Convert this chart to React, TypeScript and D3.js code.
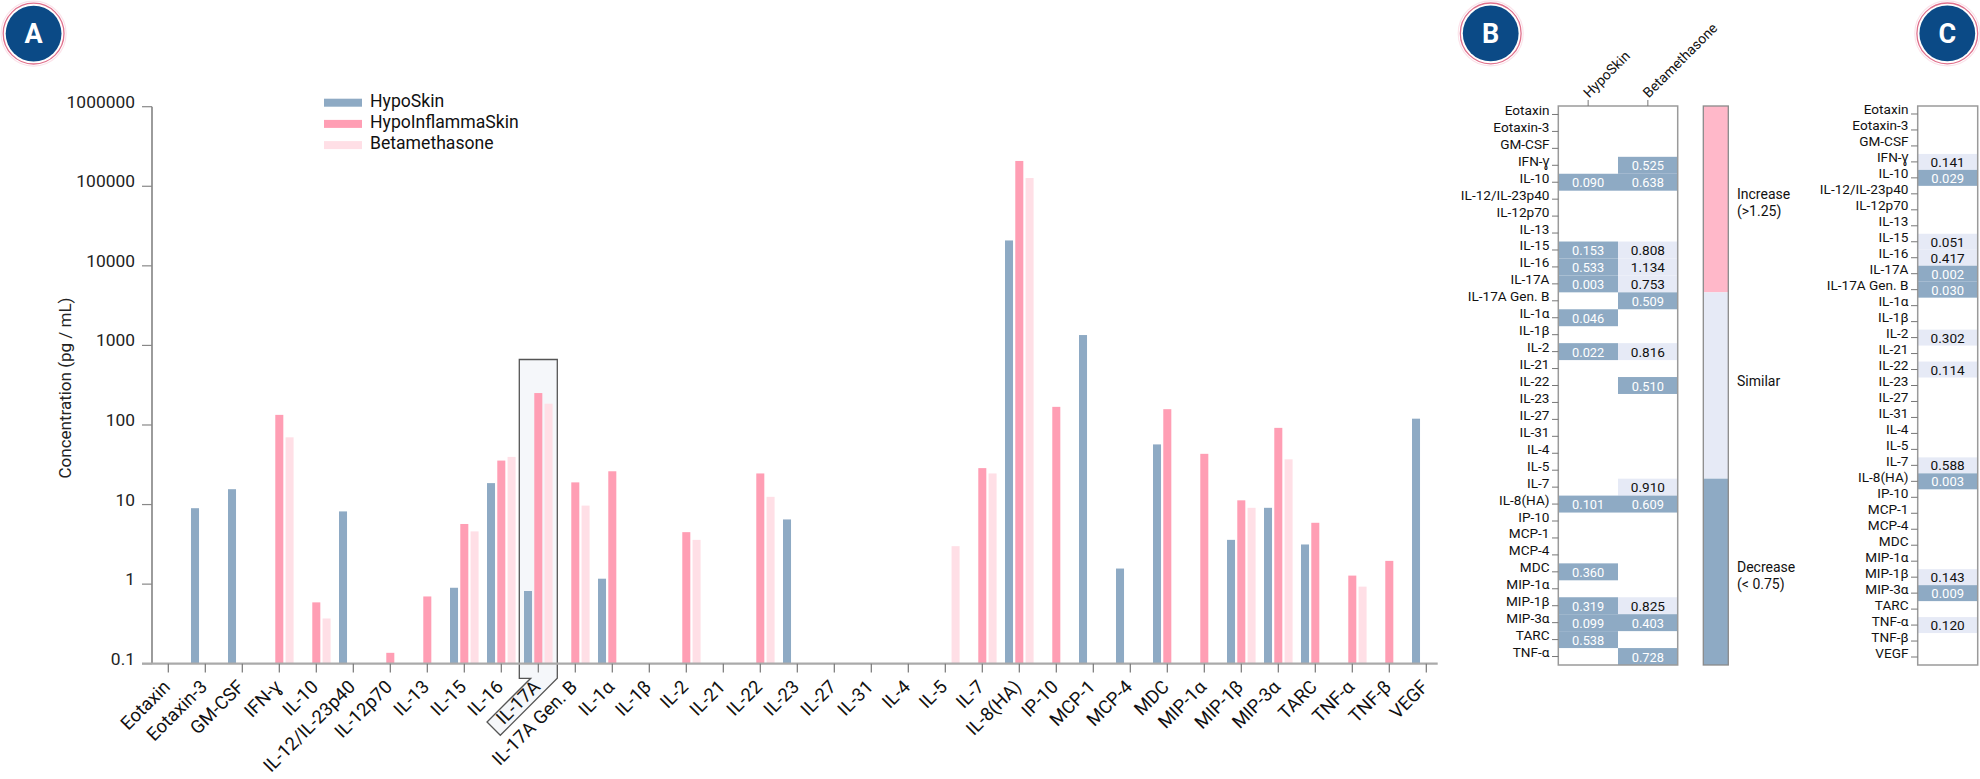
import React from 'react';
import * as d3 from 'd3';

// ---- data ----
const categories = [
  'Eotaxin', 'Eotaxin-3', 'GM-CSF', 'IFN-ɣ', 'IL-10', 'IL-12/IL-23p40', 'IL-12p70', 'IL-13',
  'IL-15', 'IL-16', 'IL-17A', 'IL-17A Gen. B', 'IL-1α', 'IL-1β', 'IL-2', 'IL-21', 'IL-22',
  'IL-23', 'IL-27', 'IL-31', 'IL-4', 'IL-5', 'IL-7', 'IL-8(HA)', 'IP-10', 'MCP-1', 'MCP-4',
  'MDC', 'MIP-1α', 'MIP-1β', 'MIP-3α', 'TARC', 'TNF-α', 'TNF-β', 'VEGF',
];

const seriesNames = ['HypoSkin', 'HypoInflammaSkin', 'Betamethasone'];
const seriesColors = ['#8eaac4', '#ff9eb4', '#ffdfe6'];

const hypoSkin = [null, 9.0, 15.6, null, null, 8.2, null, null, 0.9, 18.6, 0.82, null, 1.17, null, null, null, null, 6.5, null, null, null, null, null, 20850, null, 1350, 1.57, 57, null, 3.6, 9.1, 3.15, null, null, 120];
const hypoInflammaSkin = [null, null, null, 134, 0.59, null, 0.137, 0.7, 5.7, 35.7, 252, 19.0, 26.2, null, 4.5, null, 24.6, null, null, null, null, null, 28.7, 208000, 169, null, null, 158, 43.4, 11.3, 92, 5.9, 1.28, 1.96, null];
const betamethasone = [null, null, null, 70, 0.37, null, null, null, 4.6, 39.7, 185, 9.7, null, null, 3.6, null, 12.5, null, null, null, null, 3.0, 24.6, 127000, null, null, null, null, null, 9.1, 37, null, 0.93, null, null];

const yTicks = [0.1, 1, 10, 100, 1000, 10000, 100000, 1000000];
const yTickLabels = ['0.1', '1', '10', '100', '1000', '10000', '100000', '1000000'];

// panel B: fold change vs HypoInflammaSkin (first 33 cytokines)
const bRows = categories.slice(0, 33);
const bCols = ['HypoSkin', 'Betamethasone'];
const bHypo = [null, null, null, null, 0.09, null, null, null, 0.153, 0.533, 0.003, null, 0.046, null, 0.022, null, null, null, null, null, null, null, null, 0.101, null, null, null, 0.36, null, 0.319, 0.099, 0.538, null];
const bBeta = [null, null, null, 0.525, 0.638, null, null, null, 0.808, 1.134, 0.753, 0.509, null, null, 0.816, null, 0.51, null, null, null, null, null, 0.91, 0.609, null, null, null, null, null, 0.825, 0.403, null, 0.728];

// panel C: p-values
const cValues = [null, null, null, 0.141, 0.029, null, null, null, 0.051, 0.417, 0.002, 0.03, null, null, 0.302, null, 0.114, null, null, null, null, null, 0.588, 0.003, null, null, null, null, null, 0.143, 0.009, null, 0.12, null, null];

const legendBands = [
  { lines: ['Increase', '(>1.25)'], color: '#ffb8c9' },
  { lines: ['Similar'], color: '#e6eaf6' },
  { lines: ['Decrease', '(< 0.75)'], color: '#8eaac4' },
];

const BLUE = '#8eaac4';
const LAV = '#e6eaf6';
const PINK = '#ffb8c9';

const Badge = ({ cx, cy, letter }: { cx: number; cy: number; letter: string }) => (
  <g>
    <circle cx={cx} cy={cy} r={32.5} fill="none" stroke="#fbe3ea" strokeWidth={1.2} />
    <circle cx={cx} cy={cy} r={30.4} fill="#fff" stroke="#e0718d" strokeWidth={1.3} />
    <circle cx={cx} cy={cy} r={27.9} fill="#0b4a86" />
    <text x={cx} y={cy + 9.5} textAnchor="middle" fill="#fff" fontSize={27} fontWeight={700}>{letter}</text>
  </g>
);

const App = () => {
  // ---- panel A scales ----
  const y = d3.scaleLog().domain([0.1, 1e6]).range([663.7, 106.7]);
  const x = d3.scalePoint<string>().domain(categories).range([168.3, 1426.3]);
  const xSub = d3.scaleBand<string>().domain(seriesNames).range([-14.3, 14.3]).paddingInner(0.22);
  const axisX = 152;
  const base = y(0.1);
  const series = [hypoSkin, hypoInflammaSkin, betamethasone];

  // highlight box around IL-17A
  const hx = x('IL-17A') as number;
  const hl = hx - 19, hr = hx + 19, ht = y(665), hb = base + 14.6;
  const u = [Math.SQRT1_2, -Math.SQRT1_2];
  const v = [Math.SQRT1_2, Math.SQRT1_2];
  const L = 80.6, hgt = 18.8;
  const p4 = [hr - L * u[0], hb - L * u[1]];
  const p5 = [p4[0] - hgt * v[0], p4[1] - hgt * v[1]];
  const p6x = p5[0] + (p5[1] - hb);
  const boxPath = `M${hl},${ht}L${hr},${ht}L${hr},${hb}L${p4[0]},${p4[1]}L${p5[0]},${p5[1]}L${p6x},${hb}L${hl},${hb}Z`;

  // ---- panel B scales ----
  const bRow = d3.scaleBand<string>().domain(bRows).range([106, 665]);
  const bCol = d3.scaleBand<string>().domain(bCols).range([1558.3, 1677.7]);
  const bColor = (val: number) => (val < 0.75 ? BLUE : val <= 1.25 ? LAV : PINK);
  const bData = [bHypo, bBeta];
  const legY = d3.scaleBand<number>().domain([0, 1, 2]).range([106, 665]);

  // ---- panel C scales ----
  const cRow = d3.scaleBand<string>().domain(categories).range([106, 665]);
  const cX0 = 1917.7, cX1 = 1977.7;

  return (
    <svg width={1980} height={779} style={{ position: 'absolute', left: 0, top: 0, background: '#fff' }}
      fontFamily="Roboto, 'Noto Sans', sans-serif">
      <rect width={1980} height={779} fill="#fff" />
      <Badge cx={33.6} cy={33.6} letter="A" />
      <Badge cx={1490.7} cy={33.4} letter="B" />
      <Badge cx={1947.3} cy={33.4} letter="C" />

      {/* ---------- Panel A ---------- */}
      <path d={boxPath} fill="#f5f7fa" stroke="#555" strokeWidth={1.3} />

      {series.map((vals, si) => (
        <g key={si}>
          {vals.map((val, i) => val == null ? null : (
            <rect key={i}
              x={(x(categories[i]) as number) + (xSub(seriesNames[si]) as number)}
              y={y(val)} width={xSub.bandwidth()} height={base - y(val)}
              fill={seriesColors[si]} />
          ))}
        </g>
      ))}

      {/* y axis */}
      <line x1={axisX} x2={axisX} y1={y(1e6)} y2={base} stroke="#666" strokeWidth={1.3} />
      {yTicks.map((t, i) => (
        <g key={t}>
          <line x1={axisX - 10} x2={axisX} y1={y(t)} y2={y(t)} stroke="#888" strokeWidth={1.2} />
          <text x={135} y={y(t) + 1} textAnchor="end" fontSize={17.4} fill="#222">{yTickLabels[i]}</text>
        </g>
      ))}
      <text transform="translate(71,388) rotate(-90)" textAnchor="middle" fontSize={17} fill="#222">Concentration (pg / mL)</text>

      {/* x axis */}
      <line x1={axisX - 10} x2={1437.7} y1={base} y2={base} stroke="#aaa" strokeWidth={2.2} />
      {categories.map((c) => {
        const tx = x(c) as number;
        return (
          <g key={c}>
            <line x1={tx} x2={tx} y1={base} y2={base + 8.8} stroke="#777" strokeWidth={1.2} />
            <text transform={`translate(${tx + 3},688) rotate(-45)`} textAnchor="end" fontSize={18.5} fill="#111">{c}</text>
          </g>
        );
      })}

      {/* legend */}
      {seriesNames.map((s, i) => (
        <g key={s}>
          <rect x={324} y={98.7 + i * 21.2} width={38} height={8} fill={seriesColors[i]} />
          <text x={370} y={106.7 + i * 21.2} fontSize={17.6} fill="#111">{s}</text>
        </g>
      ))}

      {/* ---------- Panel B ---------- */}
      {bData.map((col, ci) => (
        <g key={ci}>
          {col.map((val, ri) => val == null ? null : (
            <g key={ri}>
              <rect x={bCol(bCols[ci])} y={bRow(bRows[ri])} width={bCol.bandwidth()} height={bRow.bandwidth()} fill={bColor(val)} />
              <text x={(bCol(bCols[ci]) as number) + bCol.bandwidth() / 2} y={(bRow(bRows[ri]) as number) + bRow.bandwidth() / 2 + 5}
                textAnchor="middle" fontSize={bColor(val) === BLUE ? 12.8 : 13.6}
                fill={bColor(val) === BLUE ? '#fff' : '#111'}>{val.toFixed(3)}</text>
            </g>
          ))}
        </g>
      ))}
      <rect x={1558.3} y={106} width={1677.7 - 1558.3} height={559} fill="none" stroke="#9a9a9a" strokeWidth={1.5} />
      {bRows.map((r) => {
        const cy = (bRow(r) as number) + bRow.bandwidth() / 2;
        return (
          <g key={r}>
            <line x1={1552} x2={1558.3} y1={cy} y2={cy} stroke="#777" strokeWidth={1} />
            <text x={1549.5} y={cy + 0.5} textAnchor="end" fontSize={13.6} fill="#111">{r}</text>
          </g>
        );
      })}
      {bCols.map((c) => {
        const cx = (bCol(c) as number) + bCol.bandwidth() / 2;
        return (
          <g key={c}>
            <line x1={cx} x2={cx} y1={100} y2={106} stroke="#777" strokeWidth={1} />
            <text transform={`translate(${cx + 1},98.5) rotate(-45)`} textAnchor="start" fontSize={14} fill="#111">{c}</text>
          </g>
        );
      })}

      {/* colour legend */}
      {legendBands.map((b, i) => (
        <g key={i}>
          <rect x={1703.3} y={legY(i)} width={25} height={legY.bandwidth()} fill={b.color} />
          {b.lines.map((ln, li) => (
            <text key={li} x={1737} y={(legY(i) as number) + legY.bandwidth() / 2 + li * 16.7} fontSize={14} fill="#111">{ln}</text>
          ))}
        </g>
      ))}
      <rect x={1703.3} y={106} width={25} height={559} fill="none" stroke="#8a8a8a" strokeWidth={1.3} />

      {/* ---------- Panel C ---------- */}
      {cValues.map((val, ri) => val == null ? null : (
        <g key={ri}>
          <rect x={cX0} y={cRow(categories[ri])} width={cX1 - cX0} height={cRow.bandwidth()} fill={val < 0.05 ? BLUE : LAV} />
          <text x={(cX0 + cX1) / 2} y={(cRow(categories[ri]) as number) + cRow.bandwidth() / 2 + 5}
            textAnchor="middle" fontSize={val < 0.05 ? 13 : 13.6} fill={val < 0.05 ? '#fff' : '#111'}>{val.toFixed(3)}</text>
        </g>
      ))}
      <rect x={cX0} y={106} width={cX1 - cX0} height={559} fill="none" stroke="#9a9a9a" strokeWidth={1.5} />
      {categories.map((r) => {
        const cy = (cRow(r) as number) + cRow.bandwidth() / 2;
        return (
          <g key={r}>
            <line x1={1911} x2={cX0} y1={cy} y2={cy} stroke="#777" strokeWidth={1} />
            <text x={1908.5} y={cy + 0.5} textAnchor="end" fontSize={13.6} fill="#111">{r}</text>
          </g>
        );
      })}
    </svg>
  );
};

export default App;
